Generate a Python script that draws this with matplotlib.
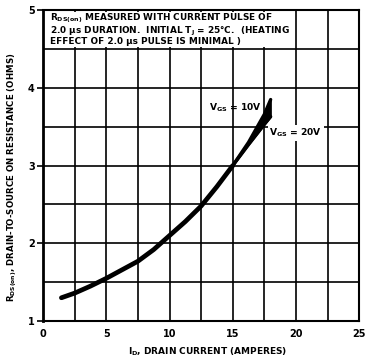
import matplotlib
matplotlib.use("Agg")
import matplotlib.pyplot as plt
from matplotlib.patches import Rectangle
import numpy as np

plt.rcParams['font.family'] = ['DejaVu Sans']
plt.rcParams['font.weight'] = 'bold'
plt.rcParams['mathtext.default'] = 'regular'

# Shared part of the curve (both V_GS values coincide here)
id_common = [1.45, 2.5, 3.75, 5.0, 6.25, 7.5, 8.75, 10.0, 11.25, 12.5, 13.75, 15.0]
rds_common = [1.30, 1.36, 1.45, 1.55, 1.66, 1.77, 1.92, 2.10, 2.28, 2.48, 2.73, 3.0]

# Upper end, where the two curves split
id_split = [15.0, 16.25, 17.5, 18.0]
rds_10v = [3.0, 3.30, 3.66, 3.85]
rds_20v = [3.0, 3.27, 3.53, 3.63]

x_ticks = [0, 5, 10, 15, 20, 25]
y_ticks = [1, 2, 3, 4, 5]

fig = plt.figure(figsize=(3.65, 3.62), dpi=100)
ax = fig.add_axes([0.118, 0.113, 0.866, 0.859])

ax.set_xlim(0, 25)
ax.set_ylim(1, 5)

# Grid
for gx in np.arange(2.5, 25, 2.5):
    ax.axvline(gx, color='black', lw=1.2, zorder=1)
for gy in np.arange(1.5, 5, 0.5):
    ax.axhline(gy, color='black', lw=1.2, zorder=1)

# Note box hides the grid behind the text
ax.add_patch(Rectangle((0.1, 4.52), 19.85, 0.46, facecolor='white', edgecolor='none', zorder=2))
ax.text(0.55, 4.985,
        "R$_{DS(on)}$ MEASURED WITH CURRENT PULSE OF\n"
        "2.0 \u03bcs DURATION.  INITIAL T$_{J}$ = 25\u00b0C.  (HEATING\n"
        "EFFECT OF 2.0 \u03bcs PULSE IS MINIMAL )",
        fontsize=6.4, fontweight='bold', va='top', ha='left', linespacing=0.95, zorder=3)

# Curves
ax.plot(id_common, rds_common, color='black', lw=3.4, solid_capstyle='round',
        solid_joinstyle='round', zorder=4)
ax.plot(id_split, rds_10v, color='black', lw=2.4, solid_capstyle='round', zorder=4)
ax.plot(id_split, rds_20v, color='black', lw=2.4, solid_capstyle='round', zorder=4)
ax.fill_between(id_split, rds_20v, rds_10v, color='black', zorder=4)

ax.text(17.3, 3.75, "V$_{GS}$ = 10V", fontsize=6.6, fontweight='bold',
        ha='right', va='center', zorder=5)
ax.text(17.9, 3.42, "V$_{GS}$ = 20V", fontsize=6.6, fontweight='bold',
        ha='left', va='center', zorder=5,
        bbox=dict(facecolor='white', edgecolor='none', pad=1.0))

# Axes and ticks
ax.set_xticks(x_ticks)
ax.set_yticks(y_ticks)
ax.tick_params(axis='x', length=0, pad=6, labelsize=7)
ax.tick_params(axis='y', length=4, width=1.2, direction='out', pad=2, labelsize=7)
for lbl in ax.get_xticklabels() + ax.get_yticklabels():
    lbl.set_fontweight('bold')

for side in ['top', 'right', 'bottom']:
    ax.spines[side].set_linewidth(1.5)
ax.spines['left'].set_linewidth(2)

fig.text(0.568, 0.028, "I$_{D}$, DRAIN CURRENT (AMPERES)",
         fontsize=6.5, fontweight='bold', ha='center', va='center')
fig.text(0.033, 0.51, "R$_{DS(on)}$, DRAIN-TO-SOURCE ON RESISTANCE (OHMS)",
         fontsize=6.2, fontweight='bold', ha='center', va='center', rotation=90)

fig.savefig("out.png", dpi=100)
